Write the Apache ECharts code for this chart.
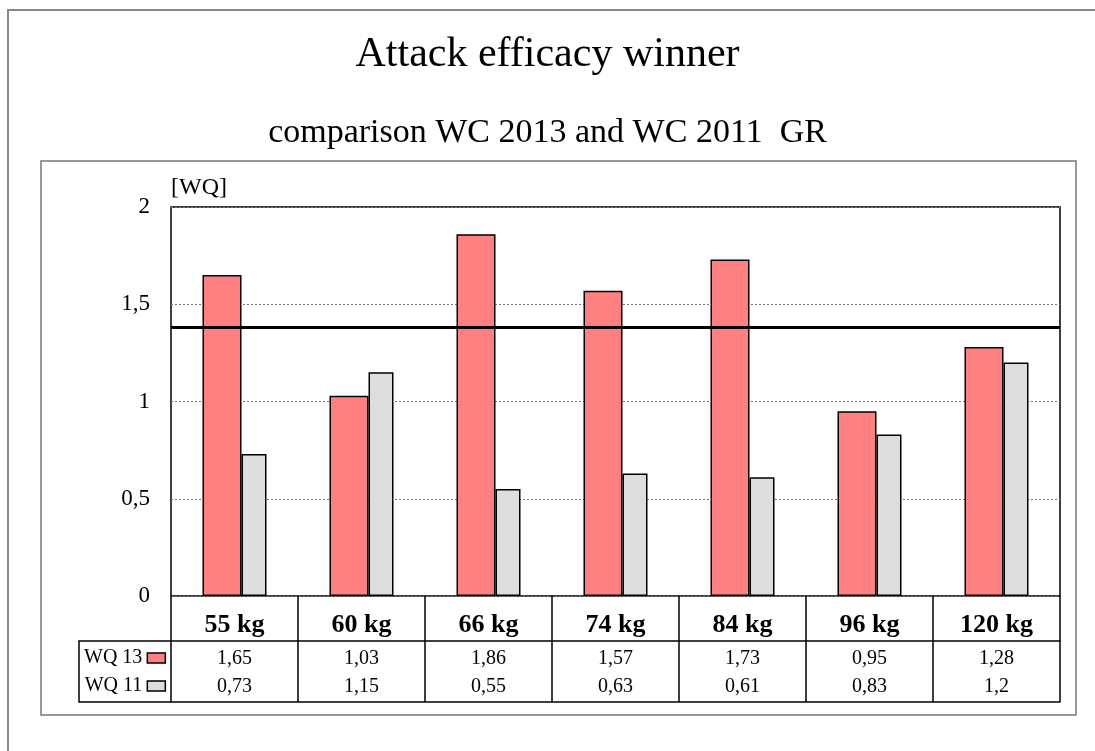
<!DOCTYPE html>
<html>
<head>
<meta charset="utf-8">
<script src="https://cdn.jsdelivr.net/npm/echarts@6/dist/echarts.min.js"></script>
<style>
  html, body { margin: 0; padding: 0; background: #fff; }
  #chart { width: 1095px; height: 751px; }
</style>
</head>
<body>
<div id="chart"></div>
<script>
// chart data
const categories = ['55 kg', '60 kg', '66 kg', '74 kg', '84 kg', '96 kg', '120 kg']
const wq13 = [1.65, 1.03, 1.86, 1.57, 1.73, 0.95, 1.28]
const wq11 = [0.73, 1.15, 0.55, 0.63, 0.61, 0.83, 1.2]
const refLine = 1.38

const font = 'Liberation Serif'
const comma = v => String(v).replace('.', ',')

const chart = echarts.init(document.getElementById('chart'))

chart.setOption({
  animation: false,
  backgroundColor: '#fff',
  title: [{
    text: 'Attack efficacy winner',
    left: 'center',
    top: 29,
    textStyle: { fontFamily: font, fontSize: 42, fontWeight: 'normal', color: '#000' }
  }, {
    text: 'comparison WC 2013 and WC 2011  GR',
    left: 'center',
    top: 111,
    textStyle: { fontFamily: font, fontSize: 34, fontWeight: 'normal', color: '#000' }
  }],
  legend: {
    orient: 'vertical',
    left: 84,
    top: 648,
    padding: 0,
    align: 'right',
    icon: 'rect',
    itemWidth: 18,
    itemHeight: 10,
    itemGap: 8,
    selectedMode: false,
    itemStyle: { borderColor: '#000', borderWidth: 1.5 },
    textStyle: { fontFamily: font, fontSize: 20, color: '#000' },
    data: ['WQ 13', 'WQ 11']
  },
  grid: {
    left: 171,
    right: 35,
    top: 207,
    bottom: 155,
    show: true,
    borderColor: '#000',
    borderWidth: 1.5,
    backgroundColor: '#fff'
  },
  xAxis: [{
    type: 'category',
    data: categories,
    position: 'bottom',
    axisLine: { show: false },
    axisTick: { show: true, interval: 0, length: 106, lineStyle: { color: '#000', width: 1.5 } },
    axisLabel: { interval: 0, margin: 16, fontFamily: font, fontSize: 26, fontWeight: 'bold', color: '#000' }
  }, {
    type: 'category',
    data: wq13.map(comma),
    position: 'bottom',
    offset: 45,
    axisLine: { show: true, lineStyle: { color: '#000', width: 1.5 } },
    axisTick: { show: false },
    axisLabel: { interval: 0, margin: 8, fontFamily: font, fontSize: 20, color: '#000' }
  }, {
    type: 'category',
    data: wq11.map(comma),
    position: 'bottom',
    offset: 106,
    axisLine: { show: true, lineStyle: { color: '#000', width: 1.5 } },
    axisTick: { show: false },
    axisLabel: { inside: true, interval: 0, margin: 5, fontFamily: font, fontSize: 20, color: '#000' }
  }],
  yAxis: {
    type: 'value',
    min: 0,
    max: 2,
    interval: 0.5,
    name: '[WQ]',
    nameLocation: 'end',
    nameGap: 7,
    nameTextStyle: { fontFamily: font, fontSize: 24, color: '#000', align: 'left' },
    axisLine: { show: false },
    axisTick: { show: false },
    axisLabel: { margin: 21, fontFamily: font, fontSize: 23, color: '#000', formatter: comma },
    splitLine: { lineStyle: { color: '#777', width: 1, type: [2, 2] } }
  },
  series: [{
    name: 'WQ 13',
    type: 'bar',
    barWidth: 39,
    barGap: '0%',
    data: wq13,
    itemStyle: { color: '#FF8080', borderColor: '#000', borderWidth: 1.5 },
    markLine: {
      silent: true,
      symbol: 'none',
      label: { show: false },
      lineStyle: { color: '#000', width: 3, type: 'solid' },
      data: [{ yAxis: refLine }]
    }
  }, {
    name: 'WQ 11',
    type: 'bar',
    barWidth: 25,
    barGap: '0%',
    data: wq11,
    itemStyle: { color: '#DDDDDD', borderColor: '#000', borderWidth: 1.5 }
  }],
  graphic: [{
    type: 'rect',
    z: -10,
    shape: { x: 8, y: 10, width: 1200, height: 800 },
    style: { fill: 'none', stroke: '#888', lineWidth: 2 }
  }, {
    type: 'rect',
    z: -10,
    shape: { x: 41, y: 161, width: 1035, height: 554 },
    style: { fill: 'none', stroke: '#777', lineWidth: 1.5 }
  }, {
    // left column of the data table
    type: 'polyline',
    shape: { points: [[171, 641], [79, 641], [79, 702], [171, 702]] },
    style: { fill: 'none', stroke: '#000', lineWidth: 1.5 }
  }]
})
</script>
</body>
</html>
